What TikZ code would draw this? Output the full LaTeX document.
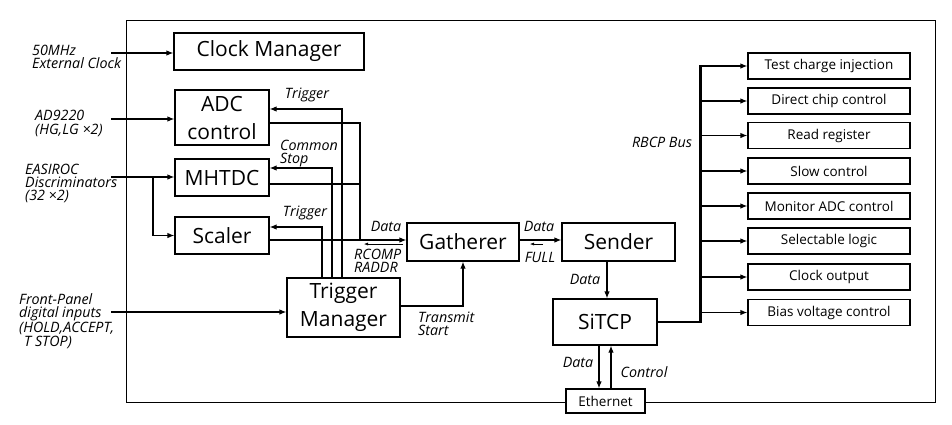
\documentclass[tikz,border=0pt]{standalone}
\usepackage{fontspec}
\setmainfont{Open Sans}
\usetikzlibrary{arrows.meta}
\begin{document}
\begin{tikzpicture}[x=1pt,y=-1pt,
  wire/.style={line width=1.2pt, -{Latex[length=7pt,width=5.5pt]}},
  plain/.style={line width=1.2pt},
  thinarr/.style={line width=0.5pt, -{Latex[length=4pt,width=3pt]}},
  blk/.style={draw, line width=1.2pt, inner sep=0pt, font=\fontsize{21}{28}\selectfont, align=center},
  sblk/.style={draw, line width=1.2pt, inner sep=0pt, font=\fontsize{13.5}{16}\selectfont, minimum width=162pt, minimum height=26pt},
  lbl/.style={inner sep=0pt, font=\fontsize{14.3}{13.3}\itshape\selectfont, align=left},
]
\useasboundingbox (0,0) rectangle (952,424);
% frame
\draw[line width=1pt] (126,20) rectangle (935,402);
% main blocks
\node[blk, minimum width=190pt, minimum height=37pt] (clock) at (269,51.5) {Clock Manager};
\node[blk, minimum width=94pt, minimum height=55pt] (adc) at (222,117.5) {ADC\\control};
\node[blk, minimum width=94pt, minimum height=37pt] (mhtdc) at (222,177.5) {MHTDC};
\node[blk, minimum width=94pt, minimum height=37pt] (scaler) at (222,235.5) {Scaler};
\node[blk, minimum width=113pt, minimum height=59pt] (tm) at (343.5,307.5) {Trigger\\Manager};
\node[blk, minimum width=112pt, minimum height=38pt] (gath) at (463,242) {Gatherer};
\node[blk, minimum width=113pt, minimum height=38pt] (sender) at (618.5,242) {Sender};
\node[blk, minimum width=104pt, minimum height=46pt] (sitcp) at (605,322) {SiTCP};
\node[sblk, fill=white, minimum width=79pt, minimum height=24pt] (eth) at (605.5,401) {Ethernet};
% right blocks
\node[sblk] (r1) at (829,66) {Test charge injection};
\node[sblk] (r2) at (829,101) {Direct chip control};
\node[sblk] (r3) at (829,135.5) {Read register};
\node[sblk] (r4) at (829,171) {Slow control};
\node[sblk] (r5) at (829,206) {Monitor ADC control};
\node[sblk] (r6) at (829,241) {Selectable logic};
\node[sblk] (r7) at (829,277) {Clock output};
\node[sblk] (r8) at (829,312.5) {Bias voltage control};
% helper coordinates
\coordinate (x153) at (153,0);
\coordinate (x322) at (322,0);
\coordinate (x332) at (332,0);
\coordinate (x342) at (342,0);
\coordinate (x360) at (360,0);
\coordinate (x599) at (599,0);
\coordinate (x607) at (607,0);
\coordinate (x611) at (611,0);
\coordinate (x700) at (700,0);
\coordinate (y109) at (0,109);
\coordinate (y123) at (0,123);
\coordinate (y168) at (0,168);
\coordinate (y184) at (0,184);
\coordinate (y227) at (0,227);
\coordinate (y240) at (0,240);
\coordinate (y306) at (0,306);
% external inputs
\coordinate (inclk) at (111,53);
\coordinate (inadc) at (111,119);
\coordinate (ineas) at (111,177);
\coordinate (infp) at (111,312);
\draw[wire] (inclk) -- (inclk -| clock.west);
\draw[wire] (inadc) -- (inadc -| adc.west);
\draw[wire] (ineas) -- (ineas -| mhtdc.west);
\draw[wire] (ineas -| x153) |- (scaler.west);
\draw[wire] (infp) -- (infp -| tm.west);
% triggers from trigger manager
\draw[wire] (tm.north -| x342) |- (adc.east |- y109);
\draw[wire] (tm.north -| x332) |- (mhtdc.east |- y168);
\draw[wire] (tm.north -| x322) |- (scaler.east |- y227);
% data to gatherer
\draw[plain] (adc.east |- y123) -| (x360 |- y240);
\draw[plain] (mhtdc.east |- y184) -- (y184 -| x360);
\draw[wire] (scaler.east |- y240) -- (gath.west |- y240);
\coordinate (rc1) at (403,244);
\coordinate (rc2) at (364,244);
\draw[thinarr] (rc1) -- (rc2);
\draw[wire] (tm.east |- y306) -| (gath.south);
% gatherer to sender
\draw[wire] (gath.east |- y240) -- (sender.west |- y240);
\coordinate (fl1) at (543,244);
\coordinate (fl2) at (530,244);
\draw[thinarr] (fl1) -- (fl2);
% sender / sitcp / ethernet
\draw[wire] (sender.south -| x607) -- (sitcp.north -| x607);
\draw[wire] (sitcp.south -| x599) -- (eth.north -| x599);
\draw[wire] (eth.north -| x611) -- (sitcp.south -| x611);
% bus
\coordinate (bustop) at (700,65);
\coordinate (busbot) at (700,323);
\draw[line width=3pt] (bustop) -- (busbot);
\draw[plain] (sitcp.east) -- (sitcp.east -| x700);
\foreach \r in {r1,r2,r3,r4,r5,r6,r7,r8}
  \draw[wire] (\r.west -| x700) -- (\r.west);
% labels
\node[lbl, anchor=west] (l1) at (32,57) {50MHz\\External Clock};
\node[lbl, anchor=west] (l2) at (35,123.5) {AD9220\\(HG,LG ×2)};
\node[lbl, anchor=west] (l3) at (25,183.5) {EASIROC\\Discriminators\\(32 ×2)};
\node[lbl, anchor=west] (l4) at (19,321) {Front-Panel\\digital inputs\\(HOLD,ACCEPT,\\\mbox{}\kern5pt T STOP)};
\node[lbl] (t1) at (307,95) {Trigger};
\node[lbl, anchor=west] (t2) at (280,153.5) {Common\\Stop};
\node[lbl] (t3) at (305,213) {Trigger};
\node[lbl] (d1) at (386,226) {Data};
\node[lbl, anchor=west] (rc) at (354,261) {RCOMP\\RADDR};
\node[lbl] (d2) at (539,226) {Data};
\node[lbl] (fu) at (540,257) {FULL};
\node[lbl] (d3) at (585,279) {Data};
\node[lbl, anchor=west] (ts) at (418,323.5) {Transmit\\Start};
\node[lbl] (d4) at (578,362) {Data};
\node[lbl] (ct) at (644,372) {Control};
\node[lbl] (rb) at (662,142) {RBCP Bus};
\end{tikzpicture}
\end{document}
